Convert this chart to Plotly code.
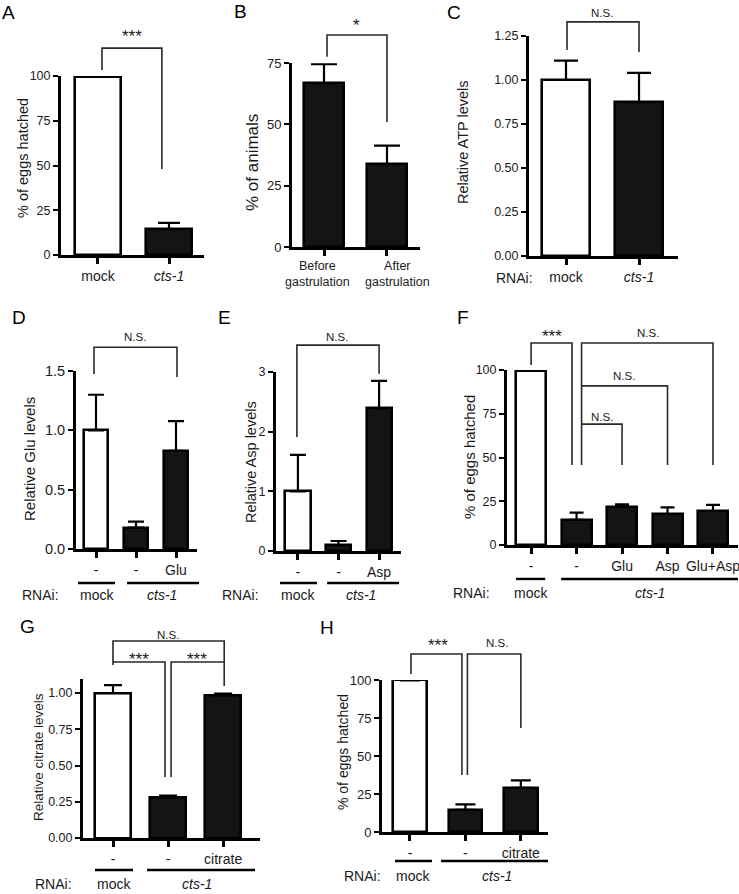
import plotly.graph_objects as go

W, H = 739, 894
FONT = "Arial, 'Liberation Sans', Helvetica, sans-serif"
INK = "#1a1a1a"
BARK = "#141414"

# ------------------------------------------------------------------ data
a_labels = ["mock", "<i>cts-1</i>"]
a_values = [99.7, 14.4]
a_errors = [0.4, 3.6]
a_fill = ["white", BARK]
a_yticks = [0, 25, 50, 75, 100]
a_yticktext = ["0", "25", "50", "75", "100"]

b_labels = ["Before<br>gastrulation", "After<br>gastrulation"]
b_values = [66.7, 33.8]
b_errors = [7.8, 7.5]
b_fill = [BARK, BARK]
b_yticks = [0, 25, 50, 75]
b_yticktext = ["0", "25", "50", "75"]

c_labels = ["mock", "<i>cts-1</i>"]
c_values = [1.0, 0.873]
c_errors = [0.11, 0.168]
c_fill = ["white", BARK]
c_yticks = [0, 0.25, 0.5, 0.75, 1.0, 1.25]
c_yticktext = ["0.00", "0.25", "0.50", "0.75", "1.00", "1.25"]

d_labels = ["-", "-", "Glu"]
d_values = [1.0, 0.18, 0.828]
d_errors = [0.30, 0.05, 0.25]
d_fill = ["white", BARK, BARK]
d_yticks = [0, 0.5, 1.0, 1.5]
d_yticktext = ["0.0", "0.5", "1.0", "1.5"]

e_labels = ["-", "-", "Asp"]
e_values = [1.0, 0.10, 2.39]
e_errors = [0.61, 0.068, 0.46]
e_fill = ["white", BARK, BARK]
e_yticks = [0, 1, 2, 3]
e_yticktext = ["0", "1", "2", "3"]

f_labels = ["-", "-", "Glu", "Asp", "Glu+Asp"]
f_values = [99.7, 14.3, 21.9, 17.7, 19.4]
f_errors = [0.4, 4.2, 1.3, 3.8, 3.5]
f_fill = ["white", BARK, BARK, BARK, BARK]
f_yticks = [0, 25, 50, 75, 100]
f_yticktext = ["0", "25", "50", "75", "100"]

g_labels = ["-", "-", "citrate"]
g_values = [1.0, 0.278, 0.986]
g_errors = [0.055, 0.014, 0.009]
g_fill = ["white", BARK, BARK]
g_yticks = [0, 0.25, 0.5, 0.75, 1.0]
g_yticktext = ["0.00", "0.25", "0.50", "0.75", "1.00"]

h_labels = ["-", "-", "citrate"]
h_values = [99.7, 14.5, 29.1]
h_errors = [0.4, 3.7, 4.9]
h_fill = ["white", BARK, BARK]
h_yticks = [0, 25, 50, 75, 100]
h_yticktext = ["0", "25", "50", "75", "100"]

# significance brackets (data units of each panel) and their labels
a_brackets = [[(0.056, 103.4), (0.056, 115.6), (0.9, 115.6), (0.9, 48.0)]]
a_marks = [("***", 0.48, 122.3)]
b_brackets = [[(0.048, 77.5), (0.048, 86.4), (1.0, 86.4), (1.0, 51.0)]]
b_marks = [("*", 0.52, 90.3)]
c_brackets = [[(0.014, 1.17), (0.014, 1.33), (1.0, 1.33), (1.0, 1.159)]]
c_marks = [("N.S.", 0.49, 1.38)]
d_brackets = [[(-0.05, 1.474), (-0.05, 1.70), (2.025, 1.70), (2.025, 1.449)]]
d_marks = [("N.S.", 0.975, 1.786)]
e_brackets = [[(-0.025, 1.91), (-0.025, 3.45), (2.0, 3.45), (2.0, 2.97)]]
e_marks = [("N.S.", 0.96, 3.59)]
f_brackets = [
    [(0.0, 102.9), (0.0, 115.4), (0.9, 115.4), (0.9, 45.7)],
    [(1.11, 45.7), (1.11, 115.4), (4.0, 115.4), (4.0, 45.7)],
    [(1.11, 90.9), (3.0, 90.9), (3.0, 45.7)],
    [(1.11, 69.1), (2.0, 69.1), (2.0, 45.7)],
]
f_marks = [("***", 0.46, 119.4), ("N.S.", 2.56, 121.0), ("N.S.", 2.05, 96.6), ("N.S.", 1.57, 73.1)]
g_brackets = [
    [(0.0, 1.193), (0.0, 1.359), (2.02, 1.359), (2.02, 1.048)],
    [(0.0, 1.214), (0.945, 1.214), (0.945, 0.421)],
    [(1.055, 0.421), (1.055, 1.214), (2.02, 1.214)],
]
g_marks = [("N.S.", 1.0, 1.40), ("***", 0.47, 1.234), ("***", 1.53, 1.234)]
h_brackets = [
    [(0.018, 103.9), (0.018, 117.1), (0.937, 117.1), (0.937, 37.5)],
    [(1.036, 37.5), (1.036, 117.1), (2.0, 117.1), (2.0, 68.4)],
]
h_marks = [("***", 0.5, 122.4), ("N.S.", 1.57, 124.3)]

# RNAi group rows: underlines (x0, x1, y) and texts (text, x, y)
c_group_lines = []
c_group_text = [("RNAi:", -0.70, -0.125)]
d_group_lines = [(-0.45, 0.475, -0.286), (0.775, 2.575, -0.286)]
d_group_text = [("RNAi:", -1.4, -0.388), ("mock", 0.025, -0.388), ("<i>cts-1</i>", 1.65, -0.388)]
e_group_lines = [(-0.44, 0.47, -0.536), (0.72, 2.49, -0.536)]
e_group_text = [("RNAi:", -1.41, -0.737), ("mock", -0.01, -0.737), ("<i>cts-1</i>", 1.56, -0.737)]
f_group_lines = [(-0.33, 0.31, -19.4), (0.66, 4.55, -19.4)]
f_group_text = [("RNAi:", -1.3, -27.4), ("mock", 0.0, -27.4), ("<i>cts-1</i>", 2.62, -27.4)]
g_group_lines = [(-0.327, 0.364, -0.221), (0.618, 2.58, -0.221)]
g_group_text = [("RNAi:", -1.09, -0.317), ("mock", 0.02, -0.317), ("<i>cts-1</i>", 1.53, -0.317)]
h_group_lines = [(-0.27, 0.396, -19.1), (0.56, 2.49, -19.1)]
h_group_text = [("RNAi:", -0.865, -28.9), ("mock", 0.05, -28.9), ("<i>cts-1</i>", 1.57, -28.9)]

y_titles = ["% of eggs hatched", "% of animals", "Relative ATP levels", "Relative Glu levels",
            "Relative Asp levels", "% of eggs hatched", "Relative citrate levels", "% of eggs hatched"]
letters = ["A", "B", "C", "D", "E", "F", "G", "H"]

# ------------------------------------------------------------------ layout specs (pixels)
# lab: None -> labels drawn as tick labels; otherwise (x offsets, y) for free-placed category labels
specs = [
    dict(xl=61, xr=204, xr_=(-0.521, 1.493), zero=255, top=76, ymax=100, ext=(0, 225, 20, 300),
         bw=0.66, cap=11, fy=12.5, fx=14, ft=14.5, title=(23, 158), letter=(8, 13), lab=None),
    dict(xl=292, xr=420, xr_=(-0.508, 1.524), zero=247, top=63, ymax=75, ext=(225, 445, 8, 300),
         bw=0.65, cap=13, fy=13, fx=12.5, ft=17, title=(253, 162), letter=(240, 12),
         lab=([-0.10, 0.16], -11.2)),
    dict(xl=529, xr=678, xr_=(-0.507, 1.534), zero=256, top=36, ymax=1.25, ext=(445, 739, 4, 300),
         bw=0.66, cap=12, fy=12.5, fx=14, ft=14.5, title=(463, 142), letter=(454, 13), lab=None),
    dict(xl=76, xr=197, xr_=(-0.5, 2.525), zero=549, top=371, ymax=1.5, ext=(0, 222, 325, 610),
         bw=0.6, cap=8, fy=14.5, fx=14, ft=15, title=(29, 459), letter=(19, 317), lab=None),
    dict(xl=276, xr=401, xr_=(-0.54, 2.54), zero=551, top=372, ymax=3, ext=(222, 458, 325, 610),
         bw=0.62, cap=8, fy=12.5, fx=14, ft=14.5, title=(251, 462), letter=(224, 317), lab=None),
    dict(xl=507, xr=738, xr_=(-0.53, 4.55), zero=545, top=370, ymax=100, ext=(458, 739, 320, 610),
         bw=0.66, cap=7, fy=12.5, fx=14, ft=15, title=(470, 457), letter=(463, 317), lab=None),
    dict(xl=83, xr=260, xr_=(-0.545, 2.67), zero=838, top=678.5, ymax=1.1, ext=(0, 300, 615, 894),
         bw=0.65, cap=9, fy=12.5, fx=14, ft=13.5, title=(38, 757), letter=(27, 626), lab=None),
    dict(xl=382, xr=548, xr_=(-0.505, 2.49), zero=832, top=680, ymax=100, ext=(300, 600, 615, 894),
         bw=0.61, cap=10, fy=13, fx=14, ft=14, title=(343, 752), letter=(327, 627), lab=None),
]

panels = [
    (a_labels, a_values, a_errors, a_fill, a_yticks, a_yticktext, a_brackets, a_marks, [], []),
    (b_labels, b_values, b_errors, b_fill, b_yticks, b_yticktext, b_brackets, b_marks, [], []),
    (c_labels, c_values, c_errors, c_fill, c_yticks, c_yticktext, c_brackets, c_marks, c_group_lines, c_group_text),
    (d_labels, d_values, d_errors, d_fill, d_yticks, d_yticktext, d_brackets, d_marks, d_group_lines, d_group_text),
    (e_labels, e_values, e_errors, e_fill, e_yticks, e_yticktext, e_brackets, e_marks, e_group_lines, e_group_text),
    (f_labels, f_values, f_errors, f_fill, f_yticks, f_yticktext, f_brackets, f_marks, f_group_lines, f_group_text),
    (g_labels, g_values, g_errors, g_fill, g_yticks, g_yticktext, g_brackets, g_marks, g_group_lines, g_group_text),
    (h_labels, h_values, h_errors, h_fill, h_yticks, h_yticktext, h_brackets, h_marks, h_group_lines, h_group_text),
]


def names(n):
    return ("xaxis" if n == 1 else f"xaxis{n}", "yaxis" if n == 1 else f"yaxis{n}",
            "x" if n == 1 else f"x{n}", "y" if n == 1 else f"y{n}")


fig = go.Figure()
layout = {}
annotations = []

for i, (spec, pdata) in enumerate(zip(specs, panels)):
    labels, values, errors, fill, yt, ytt, brackets, marks, glines, gtext = pdata
    mx, my, mxr, myr = names(2 * i + 1)
    hx, hy, hxr, hyr = names(2 * i + 2)
    x0, x1 = spec["xr_"]
    ppu_x = (spec["xr"] - spec["xl"]) / (x1 - x0)
    ppu_y = (spec["zero"] - spec["top"]) / spec["ymax"]
    el, er, et, eb = spec["ext"]
    pos = list(range(len(labels)))

    fig.add_trace(go.Bar(
        x=pos, y=values, width=spec["bw"], xaxis=mxr, yaxis=myr,
        marker=dict(color=fill, line=dict(color="black", width=2.6)),
        error_y=dict(type="data", symmetric=False, array=errors, arrayminus=[0] * len(errors),
                     color="black", thickness=2.2, width=spec["cap"]),
        cliponaxis=False, hoverinfo="skip", showlegend=False,
    ))

    tick_text = labels if spec["lab"] is None else [""] * len(labels)
    layout[mx] = dict(domain=[spec["xl"] / W, spec["xr"] / W], anchor=myr, range=[x0, x1],
                      tickmode="array", tickvals=pos, ticktext=tick_text, tickangle=0,
                      automargin=False, ticklabeloverflow="allow",
                      showline=True, linewidth=3, linecolor="black", ticks="outside",
                      ticklen=6, tickwidth=2.6, tickcolor="black", showgrid=False, zeroline=False,
                      tickfont=dict(size=spec["fx"], color=INK, family=FONT), fixedrange=True)
    layout[my] = dict(domain=[1 - spec["zero"] / H, 1 - spec["top"] / H], anchor=mxr,
                      range=[0, spec["ymax"]], tickmode="array", tickvals=yt, ticktext=ytt,
                      automargin=False, ticklabeloverflow="allow",
                      showline=True, linewidth=3, linecolor="black", ticks="outside",
                      ticklen=5, tickwidth=2, tickcolor="black", showgrid=False, zeroline=False,
                      tickfont=dict(size=spec["fy"], color=INK, family=FONT), fixedrange=True)

    # hidden overlay axes sharing the same data scale, extended to hold brackets & group rows
    hx_range = [x0 - (spec["xl"] - el) / ppu_x, x1 + (er - spec["xr"]) / ppu_x]
    hy_range = [-(eb - spec["zero"]) / ppu_y, (spec["zero"] - et) / ppu_y]
    layout[hx] = dict(domain=[el / W, er / W], anchor=hyr, range=hx_range, visible=False,
                      fixedrange=True, automargin=False)
    layout[hy] = dict(domain=[1 - eb / H, 1 - et / H], anchor=hxr, range=hy_range, visible=False,
                      fixedrange=True, automargin=False)

    if spec["lab"] is not None:
        offs, ly_ = spec["lab"]
        for p, lab_txt, off in zip(pos, labels, offs):
            annotations.append(dict(text=lab_txt, x=p + off, y=ly_, xref=hxr, yref=hyr, showarrow=False,
                                    xanchor="center", yanchor="middle",
                                    font=dict(size=spec["fx"], color=INK, family=FONT)))

    bx, by = [], []
    for br in brackets:
        bx += [p[0] for p in br] + [None]
        by += [p[1] for p in br] + [None]
    fig.add_trace(go.Scatter(x=bx, y=by, mode="lines", xaxis=hxr, yaxis=hyr,
                             line=dict(color="#2a2a2a", width=1.6), hoverinfo="skip", showlegend=False))
    for txt, tx, ty in marks:
        annotations.append(dict(text=txt, x=tx, y=ty, xref=hxr, yref=hyr, showarrow=False,
                                xanchor="center", yanchor="middle",
                                font=dict(size=11.5 if txt == "N.S." else 17, color=INK, family=FONT)))
    if glines:
        gx, gy = [], []
        for a, b, yv in glines:
            gx += [a, b, None]
            gy += [yv, yv, None]
        fig.add_trace(go.Scatter(x=gx, y=gy, mode="lines", xaxis=hxr, yaxis=hyr,
                                 line=dict(color="black", width=2.4), hoverinfo="skip", showlegend=False))
    for txt, tx, ty in gtext:
        annotations.append(dict(text=txt, x=tx, y=ty, xref=hxr, yref=hyr, showarrow=False,
                                xanchor="center", yanchor="middle",
                                font=dict(size=14, color=INK, family=FONT)))

    tx, ty = spec["title"]
    annotations.append(dict(text=y_titles[i], x=tx / W, y=1 - ty / H, xref="paper", yref="paper",
                            showarrow=False, textangle=-90, xanchor="center", yanchor="middle",
                            font=dict(size=spec["ft"], color=INK, family=FONT)))
    lx, ly = spec["letter"]
    annotations.append(dict(text=letters[i], x=lx / W, y=1 - ly / H, xref="paper", yref="paper",
                            showarrow=False, xanchor="center", yanchor="middle",
                            font=dict(size=19, color="black", family=FONT)))

fig.update_layout(**layout)
fig.update_layout(width=W, height=H, margin=dict(l=0, r=0, t=0, b=0, autoexpand=False), autosize=False,
                  paper_bgcolor="white", plot_bgcolor="rgba(0,0,0,0)", showlegend=False,
                  bargap=0, annotations=annotations, font=dict(family=FONT, color=INK))

fig.write_html("out.html", config={"displayModeBar": False},
               post_script="document.body.style.margin='0px';")
